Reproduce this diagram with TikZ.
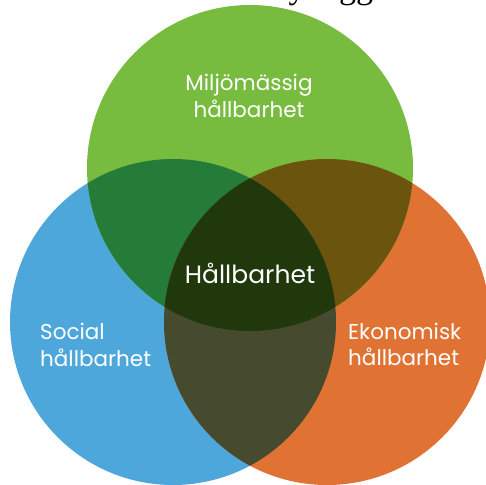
\documentclass[tikz,border=0pt]{standalone}
\usepackage{fontspec}
\setmainfont{Poppins}
\newfontfamily\serifpart{Liberation Serif}
\definecolor{cg}{RGB}{119,187,63}
\definecolor{cb}{RGB}{78,167,219}
\definecolor{co}{RGB}{224,114,52}
\definecolor{cgb}{RGB}{36,124,56}
\definecolor{cgo}{RGB}{106,84,14}
\definecolor{cbo}{RGB}{70,74,46}
\definecolor{cgbo}{RGB}{32,56,12}
\tikzset{
  lbl/.style={text=white, inner sep=0pt, font=\fontsize{21.5}{21.5}\selectfont},
  mainlbl/.style={text=white, inner sep=0pt, font=\fontsize{25}{25}\selectfont},
  frag/.style={text=black, inner sep=0pt, font=\serifpart\fontsize{34}{34}\selectfont, anchor=base}
}
\begin{document}
\begin{tikzpicture}[x=1pt,y=-1pt]
\useasboundingbox (0,0) rectangle (486,484);
\clip (0,0) rectangle (486,484);
\coordinate (G) at (250,168);
\coordinate (B) at (173,322);
\coordinate (O) at (327,322);
\fill[cb] (B) circle (163pt);
\fill[co] (O) circle (163pt);
\fill[cg] (G) circle (163pt);
\begin{scope}
  \clip (G) circle (163pt);
  \fill[cgb] (B) circle (163pt);
\end{scope}
\begin{scope}
  \clip (G) circle (163pt);
  \fill[cgo] (O) circle (163pt);
\end{scope}
\begin{scope}
  \clip (B) circle (163pt);
  \fill[cbo] (O) circle (163pt);
\end{scope}
\begin{scope}
  \clip (G) circle (163pt);
  \clip (B) circle (163pt);
  \fill[cgbo] (O) circle (163pt);
\end{scope}
\node[frag] (f1) at (297,-1.5) {y};
\node[frag] (f2) at (356,-1.5) {gg};
\node[lbl, anchor=base] (m1) at (249,91) {Miljömässig};
\node[lbl, anchor=base] (m2) at (249,117) {hållbarhet};
\node[lbl, anchor=base west] (s1) at (40,339) {Social};
\node[lbl, anchor=base west] (s2) at (40,366) {hållbarhet};
\node[lbl, anchor=base west] (e1) at (348,339) {Ekonomisk};
\node[lbl, anchor=base west] (e2) at (348,365) {hållbarhet};
\node[mainlbl, anchor=base] (h) at (250,283) {Hållbarhet};
\end{tikzpicture}
\end{document}
